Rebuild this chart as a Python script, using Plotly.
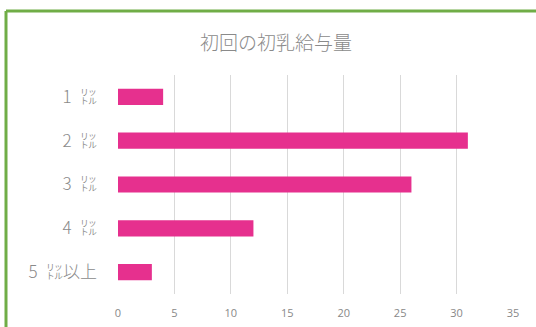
import plotly.graph_objects as go

# Data
categories = ["1\u2002㍑", "2\u2002㍑", "3\u2002㍑", "4\u2002㍑", "5\u2002㍑以上"]
values = [4, 31, 26, 12, 3]
x_ticks = [0, 5, 10, 15, 20, 25, 30, 35]
title_text = "初回の初乳給与量"

W, H = 536, 327
ml, mr, mt, mb = 118, 23, 75, 33
pw = W - ml - mr
ph = H - mt - mb

fig = go.Figure(
    go.Bar(
        x=values,
        y=categories,
        orientation="h",
        marker=dict(color="#E6308E", line=dict(width=0)),
        width=0.37,
    )
)

# Green frame: left and top edges (the rest runs off the page)
fx0 = (6 - ml) / pw
fy1 = 1 + (mt - 11) / ph
frame = dict(color="#70AD47", width=3)
fig.add_shape(type="line", xref="paper", yref="paper",
              x0=fx0, x1=fx0, y0=-1, y1=fy1, line=frame, layer="above")
fig.add_shape(type="line", xref="paper", yref="paper",
              x0=fx0, x1=2, y0=fy1, y1=fy1, line=frame, layer="above")

fig.update_layout(
    width=W, height=H,
    margin=dict(l=ml, r=mr, t=mt, b=mb, autoexpand=False),
    paper_bgcolor="white", plot_bgcolor="white",
    showlegend=False,
    title=dict(
        text=title_text,
        x=(276 - ml) / pw, xref="paper", xanchor="center",
        y=1 - 43 / H, yref="container", yanchor="middle",
        font=dict(family="Noto Sans CJK JP", size=19, color="#8a8a8a", weight=300),
    ),
    xaxis=dict(
        range=[0, 35], tickvals=x_ticks,
        showgrid=True, gridcolor="#D9D9D9", gridwidth=1,
        zeroline=False, showline=False,
        ticks="", ticklabelstandoff=11, automargin=False,
        tickfont=dict(family="Open Sans", size=11, color="#888888"),
        fixedrange=True,
    ),
    yaxis=dict(
        autorange="reversed",
        showgrid=False, zeroline=False, showline=False, ticks="",
        ticklabelstandoff=20, automargin=False,
        tickfont=dict(family="Noto Sans CJK JP", size=17, color="#8a8a8a", weight=300),
        fixedrange=True,
    ),
)

fig.write_html("out.html")
